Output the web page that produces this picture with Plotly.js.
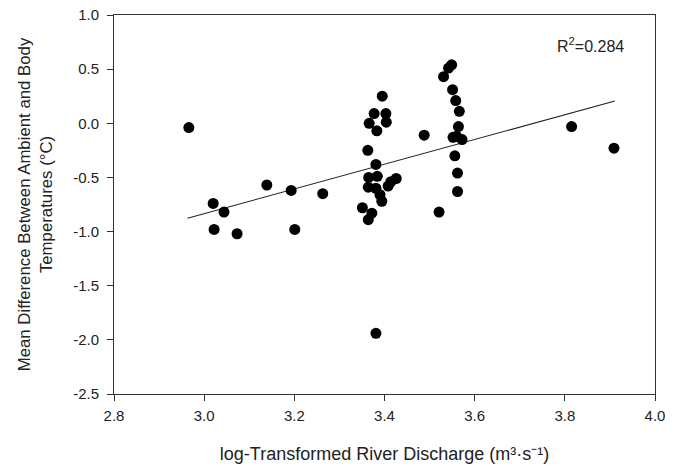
<!DOCTYPE html>
<html>
<head>
<meta charset="utf-8">
<script src="https://cdn.plot.ly/plotly-3.0.1.min.js"></script>
<style>html,body{margin:0;padding:0;background:#fff;}#chart{width:678px;height:470px;}</style>
</head>
<body>
<div id="chart"></div>
<script>
// Observations: log-transformed river discharge vs mean temperature difference
const discharge = [2.966, 3.020, 3.022, 3.044, 3.073, 3.139, 3.193, 3.201, 3.263,
  3.351, 3.364, 3.372, 3.363, 3.365, 3.364, 3.366, 3.377, 3.381, 3.381, 3.383, 3.384,
  3.390, 3.394, 3.395, 3.403, 3.404, 3.408, 3.414, 3.426, 3.381,
  3.488, 3.521, 3.531, 3.542, 3.549, 3.551, 3.558, 3.566, 3.564, 3.552, 3.560, 3.572,
  3.556, 3.562, 3.562, 3.815, 3.909];
const tempDiff = [-0.04, -0.74, -0.98, -0.82, -1.02, -0.57, -0.62, -0.98, -0.65,
  -0.78, -0.89, -0.83, -0.25, -0.50, -0.59, 0.00, 0.09, -0.38, -0.60, -0.07, -0.49,
  -0.66, -0.72, 0.25, 0.09, 0.01, -0.58, -0.54, -0.51, -1.94,
  -0.11, -0.82, 0.43, 0.51, 0.54, 0.31, 0.21, 0.11, -0.03, -0.13, -0.12, -0.15,
  -0.30, -0.46, -0.63, -0.03, -0.23];

// Regression line end points
const trendX = [2.963, 3.911];
const trendY = [-0.877, 0.206];

const xTickVals = [2.8, 3.0, 3.2, 3.4, 3.6, 3.8, 4.0];
const xTickText = ['2.8', '3.0', '3.2', '3.4', '3.6', '3.8', '4.0'];
const yTickVals = [1.0, 0.5, 0.0, -0.5, -1.0, -1.5, -2.0, -2.5];
const yTickText = ['1.0', '0.5', '0.0', '-0.5', '-1.0', '-1.5', '-2.0', '-2.5'];

const font = 'Liberation Sans, Arial, sans-serif';

const traces = [
  {
    x: trendX, y: trendY, type: 'scatter', mode: 'lines',
    line: {color: '#222222', width: 1.1}, hoverinfo: 'skip', showlegend: false
  },
  {
    x: discharge, y: tempDiff, type: 'scatter', mode: 'markers',
    marker: {color: '#000000', size: 11, line: {width: 0}}, showlegend: false
  }
];

const axisCommon = {
  showgrid: false, zeroline: false, showline: true, mirror: true,
  linecolor: '#333333', linewidth: 1, ticks: 'outside', ticklen: 6,
  tickcolor: '#333333', tickwidth: 1,
  tickfont: {family: font, size: 15, color: '#222222'}
};

const layout = {
  width: 678, height: 470,
  margin: {l: 114, r: 23, t: 15, b: 76},
  paper_bgcolor: '#ffffff', plot_bgcolor: '#ffffff',
  font: {family: font, color: '#222222'},
  xaxis: Object.assign({}, axisCommon, {
    range: [2.8, 4.0], tickvals: xTickVals, ticktext: xTickText,
    ticklabelstandoff: 2,
    title: {text: 'log-Transformed River Discharge (m³·s⁻¹)', font: {family: font, size: 18, color: '#222222'}, standoff: 24}
  }),
  yaxis: Object.assign({}, axisCommon, {
    range: [-2.5, 1.0], tickvals: yTickVals, ticktext: yTickText,
    ticklabelstandoff: 5,
    title: {text: 'Mean Difference Between Ambient and Body<br>Temperatures (°C)', font: {family: font, size: 16.8, color: '#222222'}, standoff: 16}
  }),
  annotations: [{
    x: 3.856, y: 0.72, xref: 'x', yref: 'y', showarrow: false,
    text: 'R<sup>2</sup>=0.284', font: {family: font, size: 16, color: '#222222'}
  }]
};

Plotly.newPlot('chart', traces, layout, {displayModeBar: false, staticPlot: true});
</script>
</body>
</html>
